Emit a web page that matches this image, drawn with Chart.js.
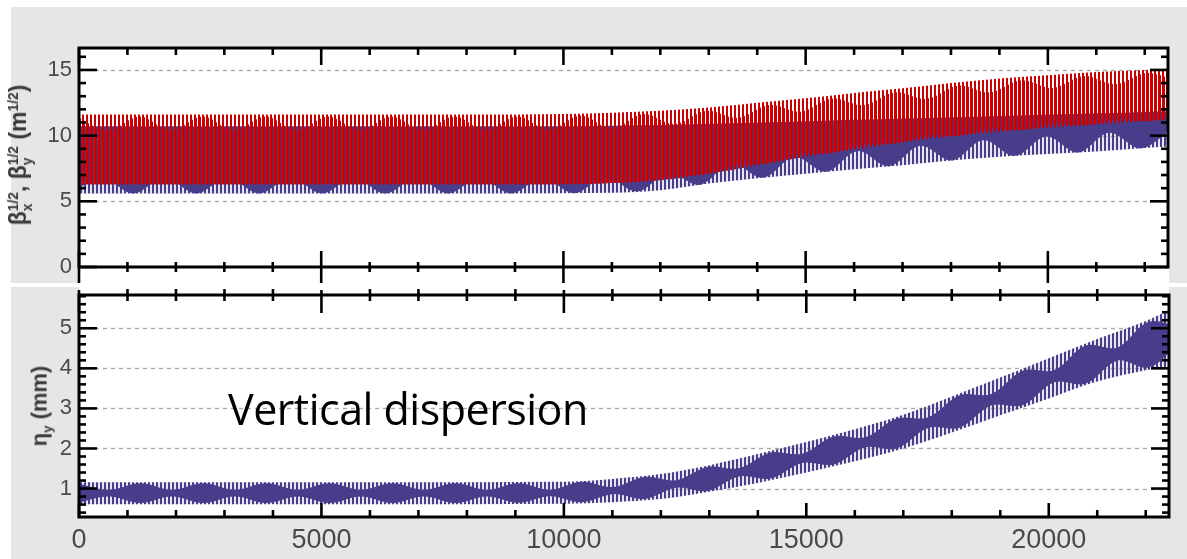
<!DOCTYPE html>
<html><head><meta charset="utf-8">
<script src="https://cdn.jsdelivr.net/npm/chart.js@4.4.1/dist/chart.umd.min.js"></script>
<style>
html,body{margin:0;padding:0;background:#fff;width:1187px;height:559px;overflow:hidden;position:relative;font-family:"Liberation Sans",Arial,sans-serif}
.gray{position:absolute;background:#e6e6e6}
#plotbg{position:absolute;left:79px;top:48px;width:1090px;height:469px;background:#fff}
.wrap{position:absolute;left:0}
.ytitle{position:absolute;white-space:nowrap;font-weight:bold;font-size:22px;color:#3a3a3a;line-height:1;transform:translate(-50%,-50%) rotate(-90deg)}
.ss{display:inline-block;font-size:0.6em;line-height:1;vertical-align:-0.45em;text-align:left}
.ss span{display:block}
.sb{font-size:0.6em;vertical-align:-0.35em;line-height:1}
#note{position:absolute;left:228px;top:387px;font-family:"Open Sans",sans-serif;font-size:43px;line-height:1;letter-spacing:-0.5px;color:#000;white-space:nowrap}
</style></head><body>
<div class="gray" style="left:11px;top:7px;width:1176px;height:276px"></div>
<div class="gray" style="left:11px;top:287px;width:1176px;height:272px"></div>
<div id="plotbg"></div>
<div class="wrap" style="top:0;width:1187px;height:287px"><canvas id="c1" width="1187" height="287"></canvas></div>
<div class="wrap" style="top:287px;width:1187px;height:272px"><canvas id="c2" width="1187" height="272"></canvas></div>
<div class="ytitle" style="left:21px;top:155px;font-size:23px">β<span class="ss"><span>1/2</span><span>x</span></span>, β<span class="ss"><span>1/2</span><span>y</span></span> (m<span class="ss"><span>1/2</span><span>&nbsp;</span></span>)</div>
<div class="ytitle" style="left:41px;top:406px">η<span class="sb">y</span> (mm)</div>
<div id="note">Vertical dispersion</div>
<script>
// ---------------- data ----------------
const xTickLabels = [0, 5000, 10000, 15000, 20000];
const yTicksTop = [0, 5, 10, 15];
const yTicksBottom = [1, 2, 3, 4, 5];

// envelope sample positions (m)
const sEnv = [0, 2000, 4000, 6000, 8000, 10000, 11000, 12000, 13000, 14000, 15000, 16000, 17000, 18000, 19000, 20000, 21000, 22000, 22480];

// beta_y^(1/2) envelope (blue, striped extent)
const betaYLo = [5.6, 5.6, 5.6, 5.6, 5.6, 5.62, 5.65, 5.85, 6.35, 6.75, 7.1, 7.45, 7.75, 8.1, 8.4, 8.6, 8.8, 9.05, 9.18];
const betaYHi = [10.7, 10.7, 10.7, 10.7, 10.7, 10.7, 10.75, 10.8, 10.9, 11.0, 11.1, 11.2, 11.3, 11.4, 11.5, 11.6, 11.7, 11.8, 11.85];
// beta_x^(1/2) envelope (red, striped extent)
const betaXLo = [6.3, 6.3, 6.3, 6.3, 6.3, 6.3, 6.4, 6.6, 7.1, 7.75, 8.4, 8.95, 9.5, 9.95, 10.3, 10.6, 10.85, 11.1, 11.2];
const betaXHi = [11.6, 11.6, 11.6, 11.6, 11.6, 11.65, 11.75, 11.9, 12.15, 12.5, 12.85, 13.25, 13.6, 14.0, 14.35, 14.6, 14.85, 15.0, 15.1];

// beta_y dense core (beat maxima / nodes)
const sCoreY = [-180, 470, 1120, 1770, 2420, 3070, 3720, 4370, 5020, 5670, 6320, 6970, 7620, 8270, 8920, 9570, 10220, 10870, 11520, 12170, 12820, 13470, 14120, 14770, 15420, 16070, 16720, 17370, 18020, 18670, 19320, 19970, 20620, 21270, 21920, 22570];
const betaYCoreLo = [5.6, 6.8, 5.6, 6.8, 5.6, 6.8, 5.6, 6.8, 5.6, 6.8, 5.6, 6.8, 5.6, 6.8, 5.6, 6.8, 5.62, 6.85, 5.75, 7.14, 6.26, 7.89, 6.79, 8.37, 7.25, 8.82, 7.67, 9.23, 8.11, 9.65, 8.46, 9.94, 8.72, 10.22, 9.03, 10.55];
const betaYCoreHi = [10.7, 10.7, 10.7, 10.7, 10.7, 10.7, 10.7, 10.7, 10.7, 10.7, 10.7, 10.7, 10.7, 10.7, 10.7, 10.7, 10.7, 10.7, 10.65, 10.6, 10.5, 10.4, 10.35, 10.3, 10.3, 10.3, 10.35, 10.4, 10.5, 10.6, 10.75, 10.9, 11.05, 11.2, 11.4, 11.6];

// beta_x dense core
const sCoreX = [-50, 600, 1250, 1900, 2550, 3200, 3850, 4500, 5150, 5800, 6450, 7100, 7750, 8400, 9050, 9700, 10350, 11000, 11650, 12300, 12950, 13600, 14250, 14900, 15550, 16200, 16850, 17500, 18150, 18800, 19450, 20100, 20750, 21400, 22050, 22700];
const betaXCoreLo = [6.3, 6.3, 6.3, 6.3, 6.3, 6.3, 6.3, 6.3, 6.3, 6.3, 6.3, 6.3, 6.3, 6.3, 6.3, 6.3, 6.34, 6.4, 6.53, 6.9, 7.07, 7.79, 7.91, 8.64, 8.7, 9.36, 9.42, 10.03, 10.0, 10.53, 10.44, 10.93, 10.79, 11.25, 11.11, 11.55];
const betaXCoreHi = [11.45, 10.4, 11.45, 10.4, 11.45, 10.4, 11.45, 10.4, 11.45, 10.4, 11.45, 10.4, 11.45, 10.4, 11.45, 10.44, 11.54, 10.55, 11.65, 10.88, 11.89, 11.36, 12.34, 11.82, 12.82, 12.32, 13.3, 12.8, 13.8, 13.28, 14.21, 13.63, 14.54, 13.91, 14.76, 14.15];

// eta_y (mm) envelope
const etaLo = [0.61, 0.61, 0.61, 0.61, 0.61, 0.62, 0.66, 0.74, 0.92, 1.14, 1.40, 1.68, 2.00, 2.40, 2.83, 3.25, 3.67, 3.95, 4.05];
const etaHi = [1.16, 1.16, 1.16, 1.16, 1.16, 1.17, 1.24, 1.36, 1.58, 1.86, 2.16, 2.48, 2.84, 3.30, 3.77, 4.25, 4.73, 5.18, 5.45];
// eta_y dense core
const sCoreEta = [-35, 615, 1265, 1915, 2565, 3215, 3865, 4515, 5165, 5815, 6465, 7115, 7765, 8415, 9065, 9715, 10365, 11015, 11665, 12315, 12965, 13615, 14265, 14915, 15565, 16215, 16865, 17515, 18165, 18815, 19465, 20115, 20765, 21415, 22065, 22715];
const etaCoreLo = [0.64, 0.80, 0.64, 0.80, 0.64, 0.80, 0.64, 0.80, 0.64, 0.80, 0.64, 0.80, 0.64, 0.80, 0.645, 0.81, 0.66, 0.86, 0.74, 1.02, 0.94, 1.30, 1.25, 1.64, 1.60, 2.03, 2.00, 2.51, 2.52, 3.07, 3.08, 3.65, 3.62, 4.19, 4.02, 4.65];
const etaCoreHi = [1.13, 0.97, 1.13, 0.97, 1.13, 0.97, 1.13, 0.97, 1.13, 0.97, 1.13, 0.97, 1.13, 0.97, 1.135, 0.97, 1.17, 1.04, 1.29, 1.21, 1.54, 1.51, 1.90, 1.87, 2.30, 2.28, 2.75, 2.78, 3.33, 3.36, 3.94, 3.96, 4.57, 4.52, 5.16, 5.02];

const X_MAX = 22480;

// ---------------- styles ----------------
const BLUE = 'rgb(72,61,139)';
const RED = 'rgb(204,0,0)';
function pattern(period, runs, base) {
  const c = document.createElement('canvas'); c.width = period; c.height = 4;
  const g = c.getContext('2d');
  if (base) { g.fillStyle = base; g.fillRect(0, 0, period, 4); }
  runs.forEach(r => { g.fillStyle = r[2]; g.fillRect(r[0], 0, r[1], 4); });
  return g.createPattern(c, 'repeat');
}
const blueStripes = pattern(4, [[0, 2, BLUE]], 'rgba(72,61,139,0.13)');
const redStripes = pattern(4, [[2, 2, RED]], null);
const redCore = pattern(4, [[0, 1, RED], [2, 2, RED]], null);

const mk = (xs, ys) => xs.map((x, i) => ({x: x, y: ys[i]}));
function band(xs, hi, lo, bg, smooth) {
  const common = {borderColor: 'rgba(0,0,0,0)', borderWidth: 0, pointRadius: 0, pointHitRadius: 0};
  if (smooth) { common.tension = 0.35; } else { common.cubicInterpolationMode = 'monotone'; }
  return [
    Object.assign({data: mk(xs, hi), fill: '+1', backgroundColor: bg}, common),
    Object.assign({data: mk(xs, lo), fill: false, backgroundColor: bg}, common)
  ];
}

function zeroPad(s) { s.paddingTop = 0; s.paddingBottom = 0; s.paddingLeft = 0; s.paddingRight = 0; }

function deco(cfg) {
  return {
    id: 'deco',
    beforeDatasetsDraw(chart) {
      const ctx = chart.ctx, a = chart.chartArea, y = chart.scales.y;
      ctx.save();
      ctx.beginPath(); ctx.rect(a.left, a.top, a.right - a.left, a.bottom - a.top); ctx.clip();
      ctx.strokeStyle = '#a9a9a9'; ctx.lineWidth = 1.4; ctx.setLineDash([4, 4]);
      cfg.grid.forEach(v => {
        const p = Math.round(y.getPixelForValue(v)) + 0.5;
        ctx.beginPath(); ctx.moveTo(a.left, p); ctx.lineTo(a.right, p); ctx.stroke();
      });
      ctx.restore();
    },
    afterDraw(chart) {
      const ctx = chart.ctx, a = chart.chartArea, x = chart.scales.x, y = chart.scales.y;
      ctx.save(); ctx.strokeStyle = '#000'; ctx.lineCap = 'butt';
      const seg = (x1, y1, x2, y2, w) => { ctx.lineWidth = w; ctx.beginPath(); ctx.moveTo(x1, y1); ctx.lineTo(x2, y2); ctx.stroke(); };
      const isMaj = (v, m) => Math.abs(v / m - Math.round(v / m)) < 1e-6;
      for (let i = Math.ceil(x.min / cfg.xMinor); i * cfg.xMinor <= x.max; i++) {
        const v = i * cfg.xMinor, p = x.getPixelForValue(v), mj = isMaj(v, cfg.xMajor);
        const t = mj ? cfg.top[0] : cfg.top[1];
        const b = mj ? cfg.bot[0] : cfg.bot[1];
        seg(p, a.top - t[1], p, a.top + t[0], 2.6);
        seg(p, a.bottom - b[0], p, a.bottom + b[1], 2.6);
      }
      for (let i = Math.ceil(y.min / cfg.yMinor - 1e-9); i * cfg.yMinor <= y.max + 1e-9; i++) {
        const v = i * cfg.yMinor, p = y.getPixelForValue(v), mj = isMaj(v, cfg.yMajor);
        const L = mj ? 18 : 7;
        seg(a.left, p, a.left + L, p, 2.6);
        seg(a.right - L, p, a.right, p, 2.6);
      }
      ctx.lineWidth = 3; ctx.strokeRect(a.left, a.top, a.right - a.left, a.bottom - a.top);
      ctx.restore();
    }
  };
}

const tickFontY = {family: 'Liberation Sans', size: 22};
const tickFontX = {family: 'Liberation Sans', size: 27};

// ---------------- top panel ----------------
new Chart(document.getElementById('c1'), {
  type: 'line',
  data: {datasets: [].concat(
    band(sCoreX, betaXCoreHi, betaXCoreLo, redCore, true),
    band(sEnv, betaXHi, betaXLo, redStripes, false),
    band(sCoreY, betaYCoreHi, betaYCoreLo, BLUE, true),
    band(sEnv, betaYHi, betaYLo, blueStripes, false)
  )},
  options: {
    responsive: false, animation: false, events: [],
    layout: {padding: {left: 0, right: 19, top: 48, bottom: 0}},
    plugins: {legend: {display: false}, tooltip: {enabled: false}, filler: {propagate: false}},
    scales: {
      x: {type: 'linear', min: 0, max: X_MAX, grid: {display: false, drawTicks: false}, border: {display: false},
          ticks: {display: false}, afterFit: s => { s.height = 20; zeroPad(s); }},
      y: {type: 'linear', min: 0, max: 16.67, grid: {display: false, drawTicks: false}, border: {display: false},
          afterBuildTicks: s => { s.ticks = yTicksTop.map(v => ({value: v})); },
          ticks: {padding: 7, color: '#4a4a4a', font: tickFontY, callback: v => String(v)},
          afterFit: s => { s.width = 79; zeroPad(s); }}
    }
  },
  plugins: [deco({grid: yTicksTop.slice(1), xMinor: 1000, xMajor: 5000, yMinor: 1, yMajor: 5,
                  top: [[17, 0], [7, 0]], bot: [[16, 16], [5, 5]]})]
});

// ---------------- bottom panel ----------------
new Chart(document.getElementById('c2'), {
  type: 'line',
  data: {datasets: [].concat(
    band(sCoreEta, etaCoreHi, etaCoreLo, BLUE, true),
    band(sEnv, etaHi, etaLo, blueStripes, false)
  )},
  options: {
    responsive: false, animation: false, events: [],
    layout: {padding: {left: 0, right: 18, top: 8, bottom: 0}},
    plugins: {legend: {display: false}, tooltip: {enabled: false}, filler: {propagate: false}},
    scales: {
      x: {type: 'linear', min: 0, max: X_MAX, grid: {display: false, drawTicks: false}, border: {display: false},
          afterBuildTicks: s => { s.ticks = xTickLabels.map(v => ({value: v})); },
          ticks: {padding: 7, color: '#4a4a4a', font: tickFontX, maxRotation: 0, autoSkip: false, callback: v => String(v)},
          afterFit: s => { s.height = 42; zeroPad(s); }},
      y: {type: 'linear', min: 0.29, max: 5.83, grid: {display: false, drawTicks: false}, border: {display: false},
          afterBuildTicks: s => { s.ticks = yTicksBottom.map(v => ({value: v})); },
          ticks: {padding: 7, color: '#4a4a4a', font: tickFontY, callback: v => String(v)},
          afterFit: s => { s.width = 79; zeroPad(s); }}
    }
  },
  plugins: [deco({grid: yTicksBottom, xMinor: 1000, xMajor: 5000, yMinor: 0.2, yMajor: 1,
                  top: [[18, 5], [6, 6]], bot: [[14, 0], [7, 0]]})]
});
</script>
</body></html>
